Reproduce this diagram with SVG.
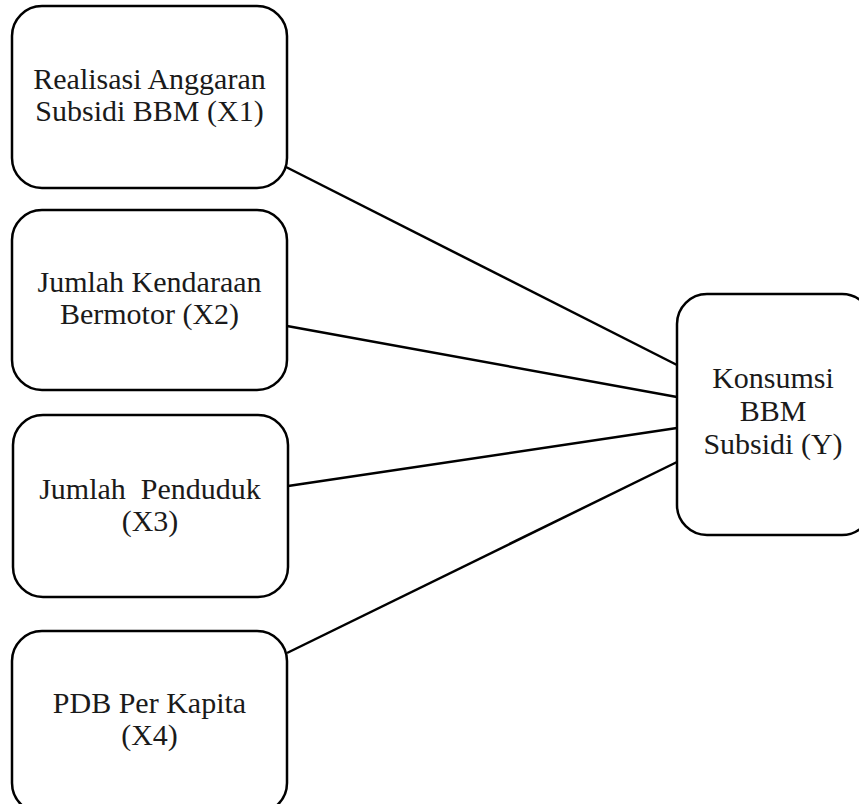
<svg xmlns="http://www.w3.org/2000/svg" width="859" height="804" viewBox="0 0 859 804">
<style>
.box{fill:#fff;stroke:#000;stroke-width:2.5}
.lbl{font-size:30px;fill:#1a1a1a;text-anchor:middle}
.conn line{stroke:#000;stroke-width:2.5}
</style>
<rect width="859" height="804" fill="#fff"/>
<g id="connectors" class="conn">
<line x1="286" y1="167" x2="677" y2="365"/>
<line x1="287" y1="326" x2="677" y2="397"/>
<line x1="288" y1="486" x2="677" y2="428"/>
<line x1="287" y1="653" x2="677" y2="462"/>
</g>
<g font-family="'Liberation Serif', 'Times New Roman', 'DejaVu Serif', serif">
<g id="x1">
<rect class="box" x="12" y="6" width="275" height="182" rx="30"/>
<text class="lbl" x="149.5" y="89">Realisasi Anggaran</text>
<text class="lbl" x="149.5" y="121">Subsidi BBM (X1)</text>
</g>
<g id="x2">
<rect class="box" x="12" y="210" width="275" height="180" rx="30"/>
<text class="lbl" x="149.5" y="292">Jumlah Kendaraan</text>
<text class="lbl" x="149.5" y="324">Bermotor (X2)</text>
</g>
<g id="x3">
<rect class="box" x="13" y="415" width="275" height="182" rx="30"/>
<text class="lbl" x="150" y="499" xml:space="preserve">Jumlah  Penduduk</text>
<text class="lbl" x="150" y="531">(X3)</text>
</g>
<g id="x4">
<rect class="box" x="12" y="631" width="275" height="182" rx="30"/>
<text class="lbl" x="149.5" y="713">PDB Per Kapita</text>
<text class="lbl" x="149.5" y="745">(X4)</text>
</g>
<g id="y">
<rect class="box" x="677" y="294" width="195" height="241" rx="30"/>
<text class="lbl" x="773" y="388">Konsumsi</text>
<text class="lbl" x="773" y="421">BBM</text>
<text class="lbl" x="773" y="454">Subsidi (Y)</text>
</g>
</g>
</svg>
